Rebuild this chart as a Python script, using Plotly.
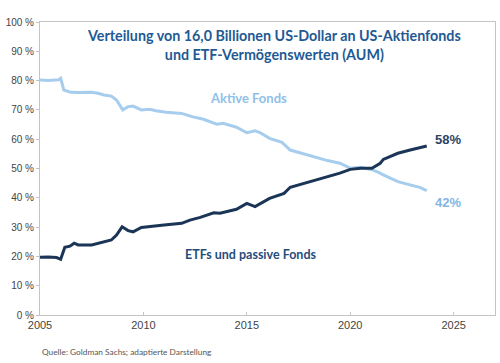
import plotly.graph_objects as go

# Aktive Fonds (share of AUM, %)
active_years = [2005.0, 2005.4, 2005.9, 2006.0, 2006.15, 2006.5, 2006.85, 2007.5, 2007.8, 2008.1,
                2008.45, 2008.7, 2009.0, 2009.26, 2009.5, 2009.9, 2010.3, 2010.6, 2011.1, 2011.85,
                2012.35, 2012.9, 2013.55, 2013.85, 2014.5, 2015.0, 2015.4, 2015.65, 2016.1, 2016.7,
                2017.1, 2017.75, 2018.4, 2018.9, 2019.5, 2020.0, 2020.5, 2021.05, 2021.4, 2021.6,
                2022.3, 2022.9, 2023.4, 2023.7]
active_vals = [80.2, 80.0, 80.3, 80.8, 76.8, 76.0, 75.9, 76.0, 75.7, 75.1,
               74.7, 73.4, 70.0, 71.1, 71.3, 70.0, 70.2, 69.7, 69.2, 68.8,
               67.7, 66.8, 65.1, 65.4, 64.1, 62.2, 62.9, 62.2, 60.3, 58.9,
               56.3, 55.0, 53.5, 52.7, 51.8, 50.1, 50.4, 49.6, 48.6, 47.8,
               45.5, 44.4, 43.5, 42.4]

# ETFs und passive Fonds (share of AUM, %)
etf_years = [2005.0, 2005.4, 2005.8, 2006.0, 2006.2, 2006.45, 2006.65, 2006.85, 2007.5, 2007.8,
             2008.1, 2008.45, 2008.7, 2008.97, 2009.26, 2009.5, 2009.9, 2010.3, 2011.0, 2011.85,
             2012.25, 2012.75, 2013.4, 2013.7, 2014.5, 2015.0, 2015.4, 2016.1, 2016.8, 2017.1,
             2017.75, 2018.4, 2018.9, 2019.5, 2020.0, 2020.5, 2021.05, 2021.45, 2021.6, 2022.3,
             2022.9, 2023.4, 2023.7]
etf_vals = [19.7, 19.8, 19.6, 19.0, 23.1, 23.5, 24.5, 23.9, 23.9, 24.5,
            25.0, 25.6, 27.3, 30.1, 28.8, 28.4, 29.9, 30.1, 30.7, 31.3,
            32.4, 33.3, 34.9, 34.7, 36.1, 38.1, 37.0, 39.8, 41.5, 43.6,
            44.9, 46.3, 47.2, 48.4, 49.7, 50.1, 50.1, 51.8, 53.1, 55.2,
            56.3, 57.2, 57.7]

y_ticks = [0, 10, 20, 30, 40, 50, 60, 70, 80, 90, 100]
y_tick_labels = [f"{v} %" for v in y_ticks]
x_ticks = [2005, 2010, 2015, 2020, 2025]

title_text = "Verteilung von 16,0 Billionen US-Dollar an US-Aktienfonds<br>und ETF-Vermögenswerten (AUM)"
active_label = "Aktive Fonds"
etf_label = "ETFs und passive Fonds"
source_text = "Quelle: Goldman Sachs; adaptierte Darstellung"

ACTIVE_COLOR = "#a6cdee"
ETF_COLOR = "#1b3557"

fig = go.Figure()
fig.add_trace(go.Scatter(x=active_years, y=active_vals, mode="lines",
                         line=dict(color=ACTIVE_COLOR, width=3), name=active_label,
                         hoverinfo="skip"))
fig.add_trace(go.Scatter(x=etf_years, y=etf_vals, mode="lines",
                         line=dict(color=ETF_COLOR, width=3), name=etf_label,
                         hoverinfo="skip"))

fig.update_layout(
    width=500, height=363,
    margin=dict(l=40, r=5, t=22, b=48),
    paper_bgcolor="white", plot_bgcolor="white",
    showlegend=False,
    font=dict(family="Liberation Sans, Arial", color="#4a4a4a", size=11),
)
fig.update_xaxes(range=[2005, 2027], tickvals=x_ticks, ticktext=[str(v) for v in x_ticks],
                 showgrid=False, zeroline=False, showline=True, linecolor="#c4c4c4",
                 linewidth=1, mirror=True, ticks="inside", ticklen=3, tickcolor="#c4c4c4",
                 tickfont=dict(size=11, color="#444444", family="Liberation Sans, Arial"))
fig.update_yaxes(range=[0, 100], tickvals=y_ticks, ticktext=y_tick_labels,
                 showgrid=False, zeroline=False, showline=True, linecolor="#c4c4c4",
                 linewidth=1, mirror=True, ticks="outside", ticklen=3, tickcolor="#c4c4c4",
                 tickfont=dict(size=10, color="#444444", family="Liberation Sans, Arial"))

# Title inside plot
fig.add_annotation(x=0.5, xref="paper", y=1.0, yref="paper", yanchor="top", xanchor="center",
                   xshift=6, yshift=-3,
                   text=f"<b>{title_text}</b>", showarrow=False, align="center",
                   font=dict(family="Lato", size=14.3, color="#1f5a94"))
fig.add_annotation(x=2013.1, y=74, xref="x", yref="y", xanchor="left", yanchor="middle",
                   text=f"<b>{active_label}</b>", showarrow=False,
                   font=dict(family="Lato", size=13, color="#8fc0e8"))
fig.add_annotation(x=2011.9, y=20.5, xref="x", yref="y", xanchor="left", yanchor="middle",
                   text=f"<b>{etf_label}</b>", showarrow=False,
                   font=dict(family="Lato", size=12.5, color="#1f4e7d"))
fig.add_annotation(x=etf_years[-1], y=etf_vals[-1], xref="x", yref="y", xanchor="left",
                   yanchor="middle", xshift=6, yshift=6,
                   text=f"<b>{round(etf_vals[-1]):.0f}%</b>", showarrow=False,
                   font=dict(family="Liberation Sans, Arial", size=13, color="#2b4466"))
fig.add_annotation(x=active_years[-1], y=active_vals[-1], xref="x", yref="y", xanchor="left",
                   yanchor="middle", xshift=6, yshift=-12,
                   text=f"<b>{round(active_vals[-1]):.0f}%</b>", showarrow=False,
                   font=dict(family="Liberation Sans, Arial", size=13, color="#7fb6e4"))
fig.add_annotation(x=0, xref="paper", y=0, yref="paper", yshift=-37, xanchor="left",
                   yanchor="middle", text=source_text, showarrow=False,
                   font=dict(family="Lato", size=8.3, color="#555555"))

fig.write_html("out.html", config={"displayModeBar": False},
               post_script="document.body.style.margin='0';")
